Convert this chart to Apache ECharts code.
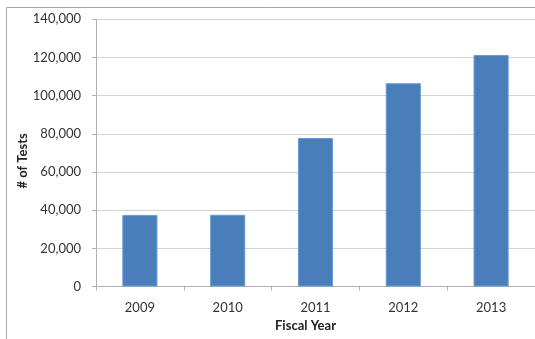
<!DOCTYPE html>
<html>
<head>
<meta charset="utf-8">
<script src="https://cdn.jsdelivr.net/npm/echarts@6/dist/echarts.min.js"></script>
<style>
  html, body { margin: 0; padding: 0; background: #fff; }
  #chart { width: 535px; height: 339px; }
</style>
</head>
<body>
<div id="chart"></div>
<script>
// Tests performed per fiscal year
const years = ['2009', '2010', '2011', '2012', '2013'];
const tests = [37500, 37600, 77800, 106500, 121300];
const yTicks = [0, 20000, 40000, 60000, 80000, 100000, 120000, 140000];

const chart = echarts.init(document.getElementById('chart'), null, { renderer: 'canvas' });
const font = 'Lato, "Open Sans", "Liberation Sans", sans-serif';

chart.setOption({
  animation: false,
  backgroundColor: '#fff',
  graphic: [{
    type: 'rect',
    shape: { x: 6.5, y: 7.5, width: 620, height: 420 },
    style: { fill: 'none', stroke: '#a6a6a6', lineWidth: 1 },
    z: -1
  }],
  grid: { left: 96, top: 19.3, width: 440, bottom: 52.5, containLabel: false },
  xAxis: {
    type: 'category',
    data: years,
    name: 'Fiscal Year',
    nameLocation: 'middle',
    nameGap: 33,
    nameMoveOverlap: false,
    nameTextStyle: {
      fontFamily: font, fontSize: 13, fontWeight: 'bold', color: '#222',
      padding: [0, 20, 0, 0]
    },
    axisLine: { lineStyle: { color: '#b0b0b0' } },
    axisTick: { show: true, length: 4, lineStyle: { color: '#b0b0b0' } },
    axisLabel: { fontFamily: font, fontSize: 13, color: '#333', margin: 15 }
  },
  yAxis: {
    type: 'value',
    min: yTicks[0],
    max: yTicks[yTicks.length - 1],
    interval: yTicks[1] - yTicks[0],
    name: '# of Tests',
    nameLocation: 'middle',
    nameRotate: 90,
    nameGap: 67,
    nameMoveOverlap: false,
    nameTextStyle: {
      fontFamily: font, fontSize: 13, fontWeight: 'bold', color: '#222',
      padding: [0, 16, 0, 0]
    },
    axisLine: { show: true, lineStyle: { color: '#b0b0b0' } },
    axisTick: { show: true, length: 4, lineStyle: { color: '#b0b0b0' } },
    axisLabel: {
      fontFamily: font, fontSize: 13, color: '#333', margin: 15,
      formatter: v => v.toLocaleString('en-US')
    },
    splitLine: { lineStyle: { color: '#d4d4d4' } }
  },
  series: [{
    type: 'bar',
    data: tests,
    barWidth: '40%',
    itemStyle: { color: '#4a7ebb', borderColor: '#6b9ad3', borderWidth: 1 }
  }]
});
</script>
</body>
</html>
